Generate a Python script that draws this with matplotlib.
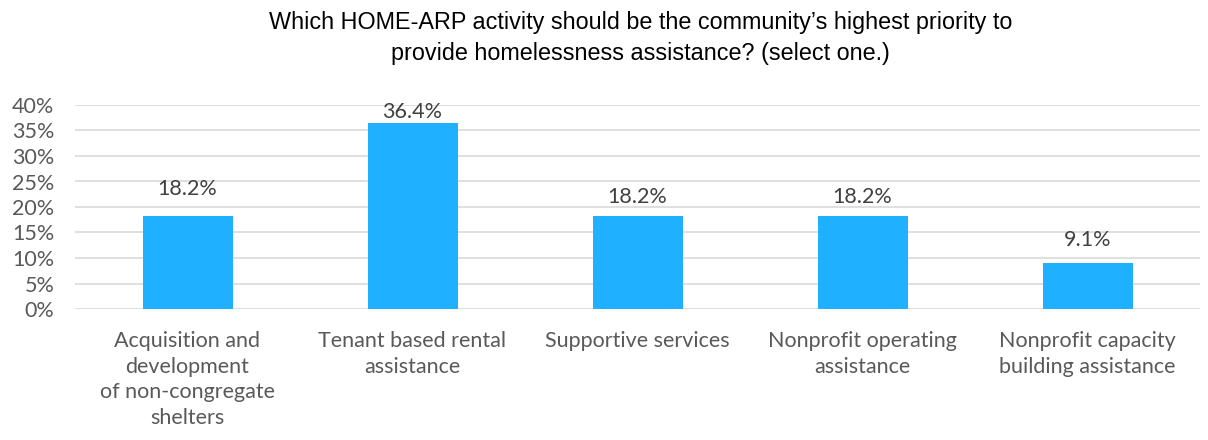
import numpy as np
import matplotlib.pyplot as plt

categories = ["Acquisition and\ndevelopment\nof non-congregate\nshelters",
              "Tenant based rental\nassistance",
              "Supportive services",
              "Nonprofit operating\nassistance",
              "Nonprofit capacity\nbuilding assistance"]
values = [18.2, 36.4, 18.2, 18.2, 9.1]
yticks = [0, 5, 10, 15, 20, 25, 30, 35, 40]

# vertical gap (px) between bar top and label centre, as in the original
label_gap = [27, 11, 19, 19, 23]

plt.rcParams['font.family'] = ['Lato', 'DejaVu Sans']

fig = plt.figure(figsize=(12.08, 4.4), dpi=100)
ax = fig.add_axes([75 / 1208, 1 - 309 / 440, 1125 / 1208, 204 / 440])

x = np.arange(len(categories))
ax.bar(x, values, width=0.4, color='#1FB0FF', zorder=3)
for xi, v, g in zip(x, values, label_gap):
    ax.annotate(f"{v:.1f}%", (xi, v), xytext=(0, g * 0.72), textcoords='offset points',
                ha='center', va='center', fontsize=15.5, color='#404040')

ax.set_xlim(-0.5, len(categories) - 0.5)
ax.set_ylim(0, 40)
ax.set_yticks(yticks)
ax.set_yticklabels([f"{t}%" for t in yticks], fontsize=15.5, color='#595959')
ax.set_xticks(x)
ax.set_xticklabels(categories, fontsize=15.5, color='#595959', linespacing=1.35, va='top')
ax.tick_params(axis='both', length=0)
ax.tick_params(axis='x', pad=16)
ax.tick_params(axis='y', pad=15)
ax.yaxis.grid(True, color='#D9D9D9', linewidth=1.2, zorder=0)
for s in ax.spines.values():
    s.set_visible(False)

fig.text(0.53, 0.975, "Which HOME-ARP activity should be the community\u2019s highest priority to\n"
         "provide homelessness assistance? (select one.)",
         ha='center', va='top', fontsize=16.8, family=['Liberation Sans', 'DejaVu Sans'],
         color='black', linespacing=1.45)

fig.savefig('out.png', dpi=100)
